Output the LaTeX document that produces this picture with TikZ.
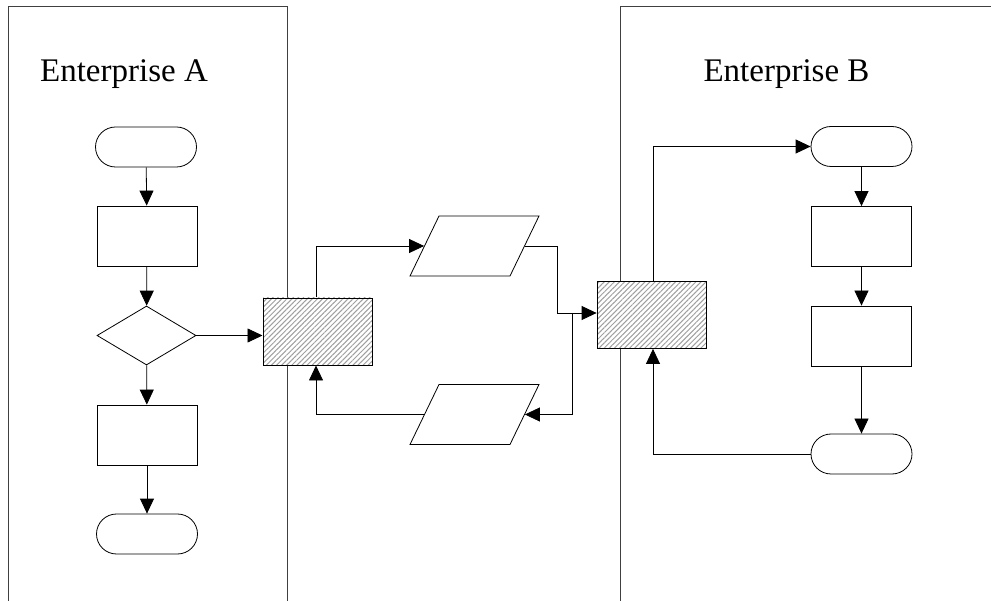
\documentclass[tikz,border=0pt]{standalone}
\usepackage{fontspec}
\setmainfont{Liberation Serif}
\usetikzlibrary{shapes.geometric,shapes.misc,arrows.meta,patterns.meta}
\begin{document}
\begin{tikzpicture}[x=1pt,y=-1pt, line width=0.8pt,
 term/.style={draw, rounded rectangle, minimum width=101pt, minimum height=40pt, inner sep=0pt, fill=white},
 proc/.style={draw, rectangle, minimum width=100pt, minimum height=60pt, inner sep=0pt, fill=white},
 dec/.style={draw, diamond, minimum width=99pt, minimum height=59pt, inner sep=0pt, fill=white},
 hatch/.style={draw, rectangle, minimum width=109pt, minimum height=67pt, inner sep=0pt,
   preaction={fill=white}, pattern={Lines[angle=45,distance=3.6pt,line width=1pt]}, pattern color=gray!75},
 io/.style={draw, rectangle, minimum width=100pt, minimum height=60pt, inner sep=0pt, fill=white},
 arr/.style={-{Triangle[length=15pt,width=14pt]}},
 frame/.style={draw=black!75, line width=1pt},
 title/.style={font=\fontsize{33}{40}\selectfont, anchor=base, inner sep=0pt}]
\useasboundingbox (0,0) rectangle (991,601);
% enterprise frames
\draw[frame] (8,602) -- (8,7) -- (287,7) -- (287,602);
\draw[frame] (620,602) -- (620,7) -- (995,7);
\node[title] (ta) at (124,82) {Enterprise A};
\node[title] (tb) at (786.5,82) {Enterprise B};
% enterprise A
\node[term] (tA1) at (146,147) {};
\node[proc] (pA1) at (147,236) {};
\node[dec]  (dA)  at (146.5,335.5) {};
\node[proc] (pA2) at (147,435) {};
\node[term] (tA2) at (147,534) {};
% exchange
\node[hatch] (h1) at (317.5,331.5) {};
\begin{scope}[shift={(474.5,246)}, xslant=0.4833, transform shape]
  \node[io] (io1) at (0,0) {};
\end{scope}
\begin{scope}[shift={(474.5,414.5)}, xslant=0.4833, transform shape]
  \node[io] (io2) at (0,0) {};
\end{scope}
\node[hatch] (h2) at (651.5,315) {};
% enterprise B
\node[term] (tB1) at (861.5,146.5) {};
\node[proc] (pB1) at (861.5,236.5) {};
\node[proc] (pB2) at (861.5,336) {};
\node[term] (tB2) at (861.5,454) {};
\coordinate (j1) at (557,313);
\coordinate (j2) at (572,313);
% connectors
\draw[arr] (tA1) -- (pA1);
\draw[arr] (pA1) -- (dA);
\draw[arr] (dA) -- (pA2);
\draw[arr] (pA2) -- (tA2);
\draw[arr] (dA.east) -- (h1.west |- dA.east);
\draw[arr] ([xshift=-1.5pt]h1.north) |- (io1.west);
\draw (io1.east) -| (j1);
\draw[arr] (j1) -- (j1 -| h2.west);
\draw[arr] (j2) |- (io2.east);
\draw[arr] (io2.west) -| ([xshift=-1.5pt]h1.south);
\draw[arr] ([xshift=1.5pt]h2.north) |- (tB1.west);
\draw[arr] (tB1) -- (pB1);
\draw[arr] (pB1) -- (pB2);
\draw[arr] (pB2) -- (tB2);
\draw[arr] (tB2.west) -| ([xshift=1.5pt]h2.south);
\end{tikzpicture}
\end{document}
